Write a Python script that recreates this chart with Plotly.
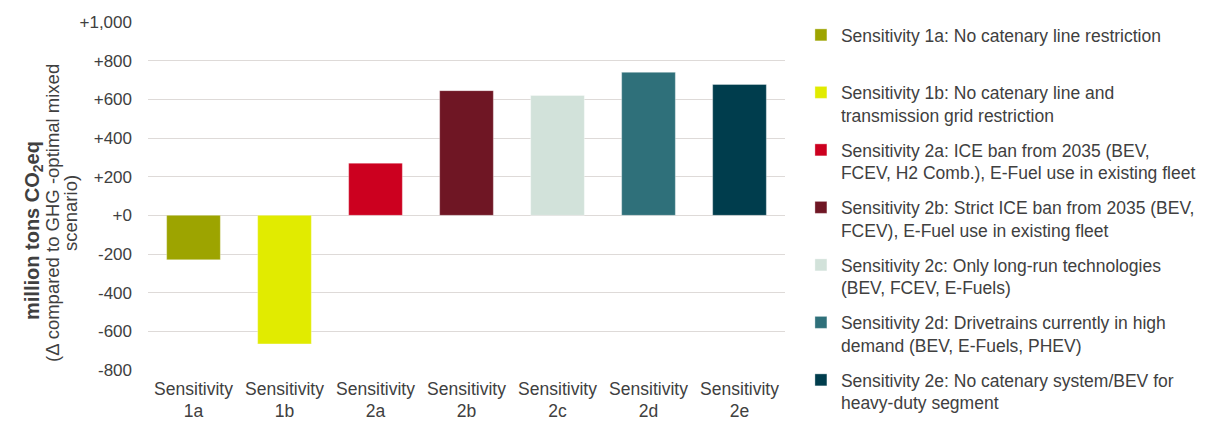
import plotly.graph_objects as go

# Scenario sensitivities and their change in cumulative emissions
categories = ["Sensitivity<br>1a", "Sensitivity<br>1b", "Sensitivity<br>2a", "Sensitivity<br>2b",
              "Sensitivity<br>2c", "Sensitivity<br>2d", "Sensitivity<br>2e"]
values = [-230, -665, 270, 645, 620, 740, 677]
legend_names = [
    "Sensitivity 1a: No catenary line restriction<br> ",
    "Sensitivity 1b: No catenary line and<br>transmission grid restriction",
    "Sensitivity 2a: ICE ban from 2035 (BEV,<br>FCEV, H2 Comb.), E-Fuel use in existing fleet",
    "Sensitivity 2b: Strict ICE ban from 2035 (BEV,<br>FCEV), E-Fuel use in existing fleet",
    "Sensitivity 2c: Only long-run technologies<br>(BEV, FCEV, E-Fuels)",
    "Sensitivity 2d: Drivetrains currently in high<br>demand (BEV, E-Fuels, PHEV)",
    "Sensitivity 2e: No catenary system/BEV for<br>heavy-duty segment",
]
colors = ["#9DA400", "#E1EB00", "#CC001F", "#6F1624", "#D2E2DA", "#2F707A", "#003D4D"]

tick_vals = [-800, -600, -400, -200, 0, 200, 400, 600, 800, 1000]
tick_text = ["-800", "-600", "-400", "-200", "+0", "+200", "+400", "+600", "+800", "+1,000"]

FONT = "Liberation Sans, Arial, sans-serif"
TEXT = "#404040"
GRID = "#DEDAD8"

# plot area in pixels
L, R, T, B = 148, 785, 22, 370
W, H = R - L, B - T


def px_x(x):
    return (x - L) / W


def px_y(y):
    return (B - y) / H


fig = go.Figure()
for cat, val, name, col in zip(categories, values, legend_names, colors):
    fig.add_trace(go.Bar(
        x=[cat], y=[val], name=name, legendgroup=name,
        marker=dict(color=col, line=dict(color="rgba(255,255,255,0.35)", width=1)),
    ))

# rotated y-axis title, one annotation per line
title_lines = [
    ("<b>million tons CO<sub>2</sub>eq</b>", 33, 231, 20),
    ("(Δ compared to GHG -optimal mixed", 52, 213, 18.5),
    ("scenario)", 70, 213, 18.5),
]
annotations = [
    dict(text=t, textangle=-90, showarrow=False, xref="paper", yref="paper",
         x=px_x(x), y=px_y(y), xanchor="center", yanchor="middle",
         font=dict(family=FONT, size=s, color=TEXT))
    for t, x, y, s in title_lines
]

fig.update_layout(
    width=1209, height=421,
    margin=dict(l=L, r=1209 - R, t=T, b=421 - B, autoexpand=False),
    paper_bgcolor="white", plot_bgcolor="white",
    font=dict(family=FONT, size=17, color=TEXT),
    bargap=0.41,
    showlegend=True,
    legend=dict(
        x=1.025, xanchor="left", y=px_y(17), yanchor="top",
        valign="top", tracegroupgap=9, maxheight=1,
        font=dict(family=FONT, size=17.5, color=TEXT),
        bgcolor="rgba(0,0,0,0)",
    ),
    xaxis=dict(
        categoryorder="array", categoryarray=categories,
        showgrid=False, showline=False, ticks="", ticklabelstandoff=6,
        tickfont=dict(family=FONT, size=17.5, color=TEXT),
    ),
    yaxis=dict(
        range=[-800, 1000], tickvals=tick_vals, ticktext=tick_text,
        showgrid=True, gridcolor=GRID, gridwidth=1.3,
        zeroline=True, zerolinecolor=GRID, zerolinewidth=1.3,
        showline=False, ticks="", ticklabelstandoff=15,
        tickfont=dict(family=FONT, size=17, color=TEXT),
    ),
    annotations=annotations,
)

fig.write_html("out.html")
